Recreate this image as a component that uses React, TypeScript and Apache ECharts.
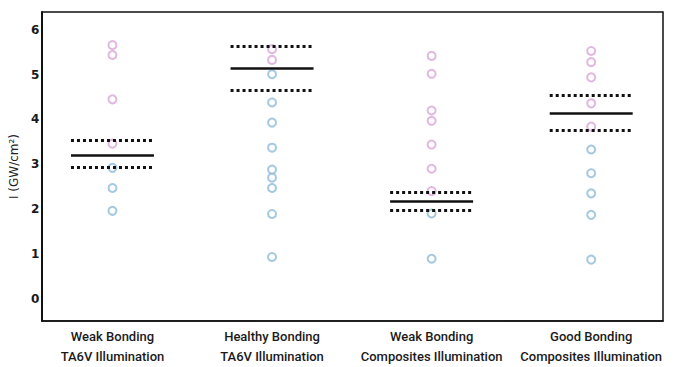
import React, { useEffect, useRef } from "react";
import * as echarts from "echarts";

// Group names shown under the x axis (one per group position 0..3)
const categories = [
  "Weak Bonding\nTA6V Illumination",
  "Healthy Bonding\nTA6V Illumination",
  "Weak Bonding\nComposites Illumination",
  "Good Bonding\nComposites Illumination",
];

// Individual measurements per group, split by marker colour
const pinkValues = [
  [5.66, 5.44, 4.45, 3.46],
  [5.57, 5.33],
  [5.42, 5.02, 4.2, 3.97, 3.44, 2.9, 2.4],
  [5.53, 5.28, 4.94, 4.36, 3.84],
];
const blueValues = [
  [2.92, 2.47, 1.96],
  [5.01, 4.38, 3.93, 3.37, 2.88, 2.7, 2.47, 1.89, 0.93],
  [1.9, 0.89],
  [3.33, 2.8, 2.35, 1.87, 0.87],
];

// Group mean and the band around it
const means = [3.21, 5.15, 2.18, 4.13];
const upperBand = [3.53, 5.64, 2.38, 4.54];
const lowerBand = [2.94, 4.65, 1.98, 3.75];

const yTicks = [0, 1, 2, 3, 4, 5, 6];

const HALF = 0.26;

function toPoints(groups: number[][]) {
  const pts: number[][] = [];
  groups.forEach((vals, i) => vals.forEach((v) => pts.push([i, v])));
  return pts;
}

function segments(values: number[]) {
  return values.map((v, i) => [
    { coord: [i - HALF, v] },
    { coord: [i + HALF, v] },
  ]);
}

export default function App() {
  const ref = useRef<HTMLDivElement>(null);

  useEffect(() => {
    document.body.style.margin = "0";
    const chart = echarts.init(ref.current!, null, { renderer: "svg" });
    chart.setOption({
      animation: false,
      backgroundColor: "#ffffff",
      grid: { left: 38, right: 15, top: 12, bottom: 46, show: true, borderColor: "#111", borderWidth: 1.5 },
      xAxis: {
        type: "value",
        min: -0.44,
        max: 3.45,
        axisLine: { show: true, onZero: false, lineStyle: { color: "#111", width: 1.5 } },
        axisTick: { show: false },
        splitLine: { show: false },
        axisLabel: {
          customValues: [0, 1, 2, 3],
          formatter: (v: number) => categories[Math.round(v)] ?? "",
          color: "#1a1a1a",
          fontFamily: "Roboto",
          fontWeight: 500,
          fontSize: 13,
          lineHeight: 20,
          margin: 5,
        },
      },
      yAxis: {
        type: "value",
        min: -0.5,
        max: 6.4,
        name: "I (GW/cm²)",
        nameLocation: "middle",
        nameGap: 11,
        nameTextStyle: { color: "#222", fontFamily: "DejaVu Sans", fontSize: 12 },
        axisLine: { show: true, onZero: false, lineStyle: { color: "#111", width: 2 } },
        axisTick: { show: false },
        splitLine: { show: false },
        axisLabel: {
          customValues: yTicks,
          color: "#1a1a1a",
          fontFamily: "DejaVu Sans",
          fontWeight: "bold",
          fontSize: 12,
          margin: 3,
        },
      },
      series: [
        {
          type: "scatter",
          data: toPoints(pinkValues),
          symbol: "emptyCircle",
          symbolSize: 8,
          itemStyle: { color: "#dba6d8", borderColor: "#dba6d8", borderWidth: 1 },
          markLine: {
            silent: true,
            symbol: "none",
            label: { show: false },
            lineStyle: { color: "#111", width: 2.5, type: "solid" },
            data: segments(means),
          },
        },
        {
          type: "scatter",
          data: toPoints(blueValues),
          symbol: "emptyCircle",
          symbolSize: 8,
          itemStyle: { color: "#8dbbdb", borderColor: "#8dbbdb", borderWidth: 1 },
          markLine: {
            silent: true,
            symbol: "none",
            label: { show: false },
            lineStyle: { color: "#111", width: 3, type: [3, 3] },
            data: [...segments(upperBand), ...segments(lowerBand)],
          },
        },
      ],
    });
    return () => chart.dispose();
  }, []);

  return (
    <div
      ref={ref}
      style={{ position: "fixed", left: 0, top: 0, width: 678, height: 367 }}
    />
  );
}
